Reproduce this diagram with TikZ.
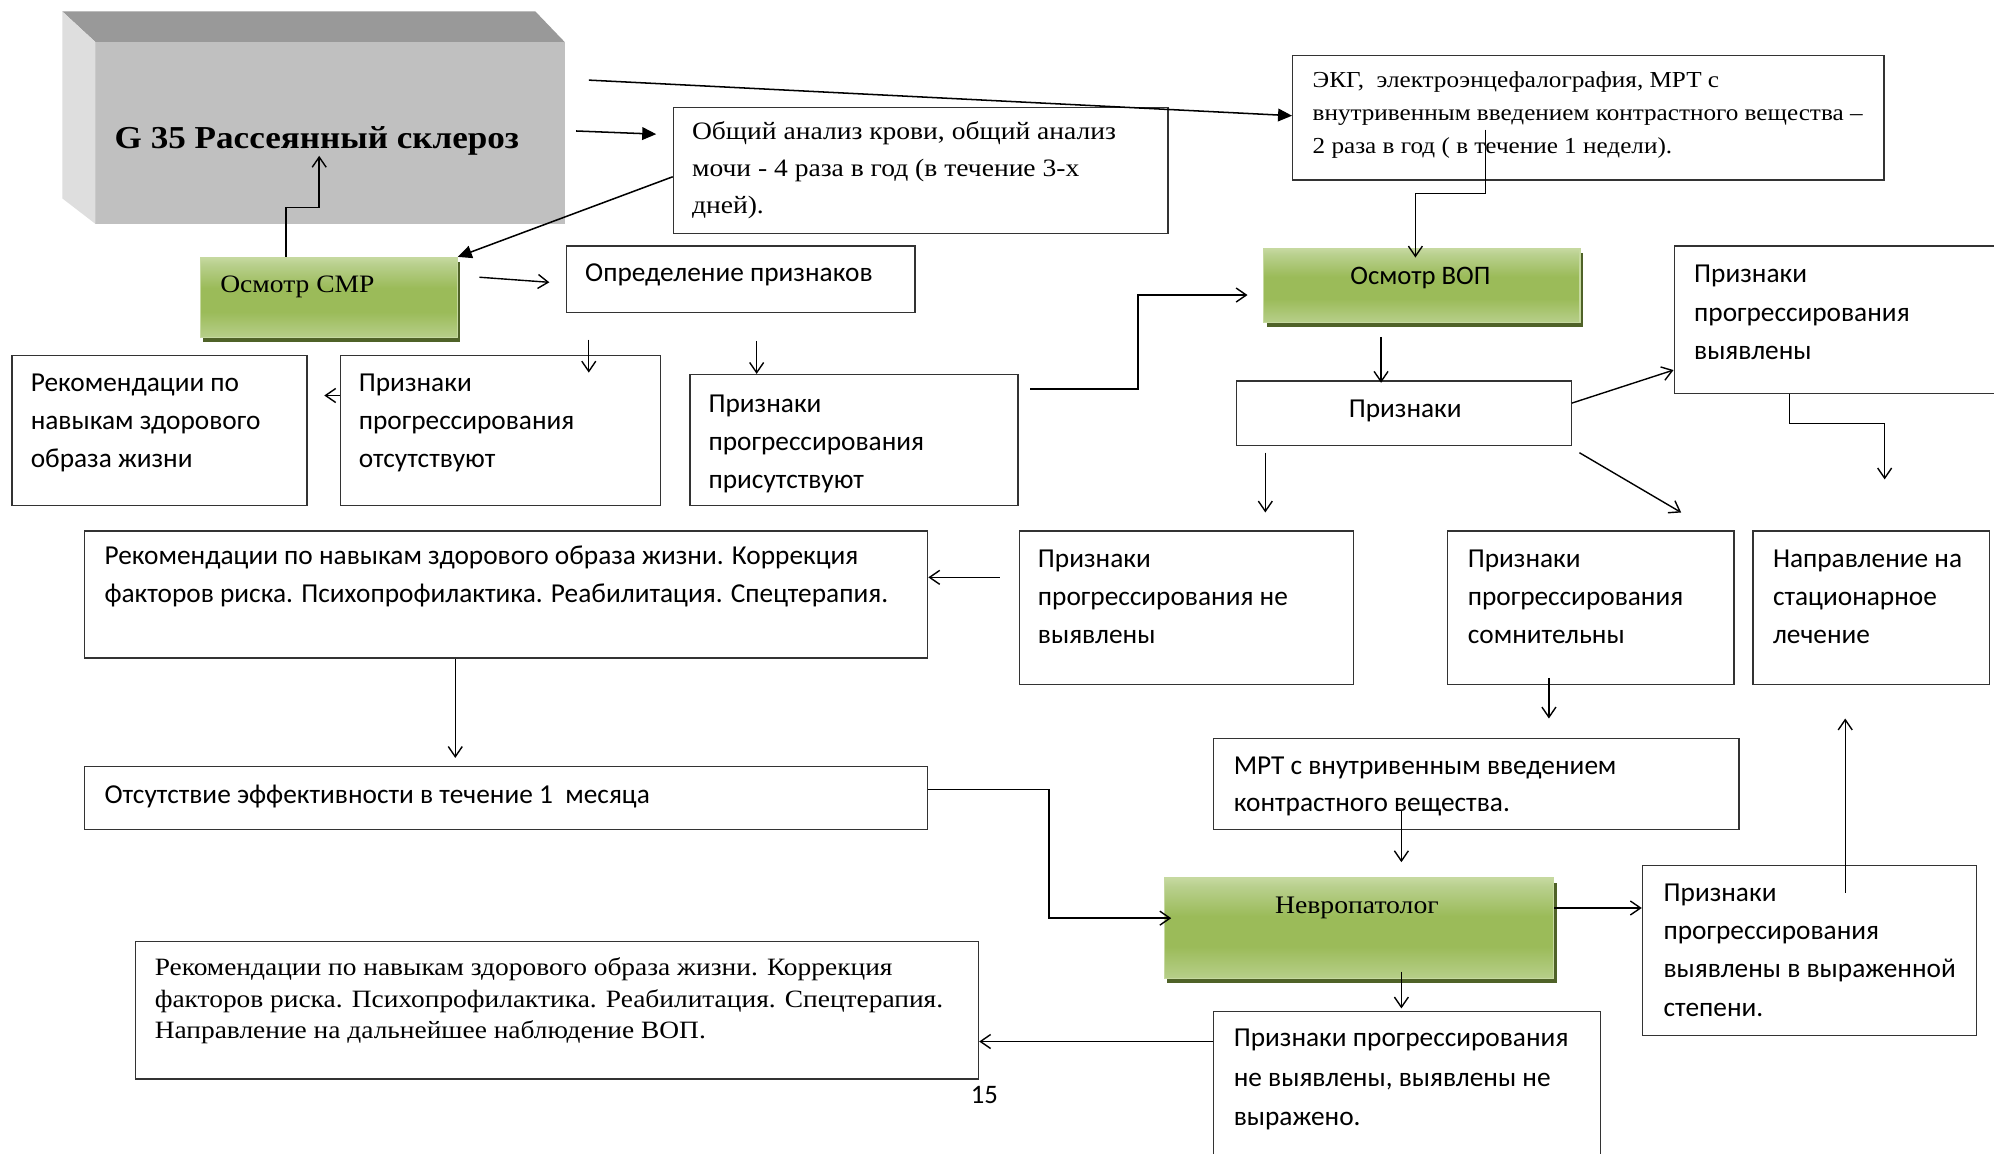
\documentclass[tikz,border=0pt]{standalone}
\usepackage{fontspec}
\setmainfont{Liberation Serif}[FakeStretch=1.1]
\newfontfamily\calib{Carlito}
\usetikzlibrary{arrows.meta,shadows,calc}
\definecolor{gtop}{HTML}{B9D08E}
\definecolor{gmid}{HTML}{9BBB59}
\definecolor{gbot}{HTML}{B7CF8A}
\definecolor{gedge}{HTML}{C6D9A0}
\definecolor{gshadow}{HTML}{4F6228}
\definecolor{blockfront}{HTML}{C0C0C0}
\definecolor{blocktop}{HTML}{999999}
\definecolor{blockside}{HTML}{DEDEDE}
% light top, darker middle band, light bottom
\pgfdeclareverticalshading{greenfill}{100bp}{color(0bp)=(gbot); color(25bp)=(gbot); color(41bp)=(gmid); color(56bp)=(gmid); color(71bp)=(gtop); color(75bp)=(gedge); color(100bp)=(gedge)}
\tikzset{
  box/.style={draw=black!80, line width=1pt, inner sep=0pt, fill=white},
  greenbox/.style={draw=gedge, line width=1pt, inner sep=0pt,
    shade, shading=greenfill,
    drop shadow={shadow xshift=2.5pt, shadow yshift=-3.5pt, fill=gshadow, opacity=1}},
  arr/.style={line width=1.1pt, -{Straight Barb[length=8pt,width=11pt,line width=1.1pt]}},
  farr/.style={line width=1.2pt, -{Triangle[length=11pt,width=10pt]}},
  % multi-line texts are placed by the baseline of their last line
  sanstxt/.style={font=\calib\fontsize{21.5}{30}\selectfont, anchor=base west, inner sep=0pt, align=left},
  seriftxt/.style={font=\fontsize{19.7}{29}\selectfont, anchor=base west, inner sep=0pt, align=left},
  smallserif/.style={font=\fontsize{18}{26}\selectfont, anchor=base west, inner sep=0pt, align=left},
}
% box from (x1,y1) to (x2,y2), y measured downwards
\newcommand\flowbox[5]{\node[box, anchor=north west, minimum width={#4pt-#2pt}, minimum height={#5pt-#3pt}] (#1) at (#2,#3) {};}
\newcommand\greenblock[5]{\node[greenbox, anchor=north west, minimum width={#4pt-#2pt}, minimum height={#5pt-#3pt}] (#1) at (#2,#3) {};}
\begin{document}
\begin{tikzpicture}[x=1pt,y=-1pt]
\useasboundingbox (0,0) rectangle (1568,907);
\clip (0,0) rectangle (1568,907);
\fill[white] (0,0) rectangle (1568,907);

% bevelled grey title block
\fill[blockfront] (75,33) rectangle (444,176);
\fill[blocktop] (49,9) -- (421,9) -- (444,33) -- (75,33) -- cycle;
\fill[blockside] (49,9) -- (75,33) -- (75,176) -- (49,156) -- cycle;
\node[font=\bfseries\fontsize{25.1}{30}\selectfont, anchor=base west, inner sep=0pt] (title) at (90,117) {G 35 Рассеянный склероз};

% green blocks
\greenblock{smr}{157}{202}{359}{265}
\node[font=\fontsize{19.7}{26}\selectfont, anchor=base west, inner sep=0pt] (smrT) at (173,230) {Осмотр СМР};
\greenblock{vop}{993}{195}{1242}{253}
\node[font=\calib\fontsize{21}{26}\selectfont, anchor=base, inner sep=0pt] (vopT) at (1117,224) {Осмотр ВОП};
\greenblock{nevro}{915}{690}{1221}{769}
\node[font=\fontsize{19.8}{26}\selectfont, anchor=base, inner sep=0pt] (nevroT) at (1067,718) {Невропатолог};

% plain boxes
\flowbox{analiz}{529}{84}{918}{183}
\node[seriftxt] (analizT) at (544,168) {Общий анализ крови, общий анализ\\мочи - 4 раза в год (в течение 3-х\\дней).};
\flowbox{ekg}{1016}{43}{1481}{141}
\node[smallserif] (ekgT) at (1032,121) {ЭКГ,\ \ электроэнцефалография, МРТ с\\внутривенным введением контрастного вещества –\\2 раза в год ( в течение 1 недели).};
\flowbox{opr}{445}{193}{719}{245}
\node[sanstxt] (oprT) at (460,221.5) {Определение признаков};
\flowbox{rek1}{9}{279}{241}{397}
\node[sanstxt] (rek1T) at (24,368) {Рекомендации по\\навыкам здорового\\образа жизни};
\flowbox{ots}{267}{279}{519}{397}
\node[sanstxt] (otsT) at (282,368) {Признаки\\прогрессирования\\отсутствуют};
\flowbox{pris}{542}{294}{800}{397}
\node[sanstxt] (prisT) at (557,384) {Признаки\\прогрессирования\\присутствуют};
\flowbox{priz}{972}{299}{1235}{350}
\node[sanstxt, anchor=base] (prizT) at (1105,328) {Признаки};
\flowbox{vyav}{1316}{193}{1585}{309}
\node[sanstxt, font=\calib\fontsize{21.5}{30.5}\selectfont] (vyavT) at (1332,283) {Признаки\\прогрессирования\\выявлены};
\flowbox{rek2}{66}{417}{729}{517}
\node[sanstxt] (rek2T) at (82,474) {Рекомендации по навыкам здорового образа жизни. Коррекция\\факторов риска. Психопрофилактика. Реабилитация. Спецтерапия.};
\flowbox{nevyav}{801}{417}{1064}{538}
\node[sanstxt] (nevyavT) at (816,506) {Признаки\\прогрессирования не\\выявлены};
\flowbox{somn}{1138}{417}{1363}{538}
\node[sanstxt] (somnT) at (1154,506) {Признаки\\прогрессирования\\сомнительны};
\flowbox{napr}{1378}{417}{1564}{538}
\node[sanstxt] (naprT) at (1394,506) {Направление на\\стационарное\\лечение};
\flowbox{otsut}{66}{602}{729}{652}
\node[sanstxt] (otsutT) at (82,631.5) {Отсутствие эффективности в течение 1\ \ месяца};
\flowbox{mrt}{954}{580}{1367}{652}
\node[sanstxt, font=\calib\fontsize{21.5}{29.5}\selectfont] (mrtT) at (970,638.5) {МРТ с внутривенным введением\\контрастного вещества.};
\flowbox{vyr}{1291}{680}{1554}{814}
\node[sanstxt] (vyrT) at (1308,799) {Признаки\\прогрессирования\\выявлены в выраженной\\степени.};
\flowbox{nevyr}{954}{795}{1258}{925}
\node[sanstxt, font=\calib\fontsize{21.5}{31}\selectfont] (nevyrT) at (970,885) {Признаки прогрессирования\\не выявлены, выявлены не\\выражено.};
\flowbox{rek3}{106}{740}{769}{848}
\node[smallserif, font=\fontsize{19.6}{25}\selectfont] (rek3T) at (121.5,817) {Рекомендации по навыкам здорового образа жизни. Коррекция\\факторов риска. Психопрофилактика. Реабилитация. Спецтерапия.\\Направление на дальнейшее наблюдение ВОП.};
\node[font=\calib\fontsize{21}{26}\selectfont, anchor=base, inner sep=0pt] (pagenum) at (774,868) {15};

% free ends of connectors
\coordinate (tA) at (453,103);
\coordinate (tB) at (463,63);
\coordinate (sA) at (377,218);
\coordinate (sB) at (432,222);
\coordinate (oA) at (463,267);
\coordinate (oB) at (595,268);
\coordinate (pA) at (810,306);
\coordinate (eA) at (1168,102);
\coordinate (vA) at (1086,265);
\coordinate (qA) at (995,356);
\coordinate (qB) at (1242,356);
\coordinate (qC) at (1322,403);
\coordinate (nA) at (786,454);
\coordinate (wA) at (1482,377);
\coordinate (mA) at (1218,533);
\coordinate (mB) at (1102,638);
\coordinate (rA) at (1451,702);

% connectors
\draw[farr, shorten >=13pt] (tA) -- (analiz.west |- 0,106);
\draw[farr] (tB) -- (ekg.west |- 0,91);
\draw[farr] (analiz.west |- 0,139) -- (smr.north east);
\draw[arr] (smr.north -| 225,0) |- (251,163) -- (title.south -| 251,0);
\draw[arr] (sA) -- (sB);
\draw[arr, shorten >=-14pt] (oA) -- (ots.north -| oA);
\draw[arr] (oB) -- (pris.north -| oB);
\draw[arr, shorten >=13pt] (ots.west |- 0,311) -- (rek1.east |- 0,311);
\draw[arr, shorten >=12pt] (pA) -- (895,306) |- (vop.west |- 0,232);
\draw[arr, shorten >=-7.5pt] (eA) -- (1168,152) -| (vop.north -| 1113,0);
\draw[arr, shorten >=-2pt] (vA) -- (priz.north -| vA);
\draw[arr] (priz.east |- 0,317) -- (vyav.west |- 0,291);
\draw[arr] (vyav.south -| 1407,0) -- (1407,333) -| (wA);
\draw[arr, shorten >=14pt] (qA) -- (nevyav.north -| qA);
\draw[arr] (qB) -- (qC);
\draw[arr] (nA) -- (rek2.east |- nA);
\draw[arr, shorten >=6pt] (rek2.south -| 358,0) -- (otsut.north -| 358,0);
\draw[arr, shorten >=-6pt] (otsut.east |- 0,621) -- (825,621) |- (nevro.west |- 0,722);
\draw[arr, shorten >=15pt] (mA) -- (mrt.north -| mA);
\draw[arr, shorten >=12pt] (mB) -- (nevro.north -| mB);
\draw[arr] (nevro.east |- 0,714) -- (vyr.west |- 0,714);
\draw[arr, shorten >=26pt] (rA) -- (napr.south -| rA);
\draw[arr, shorten >=2pt] (nevro.south -| 1102,0) ++(0,-6) -- (nevyr.north -| 1102,0);
\draw[arr] (nevyr.west |- 0,819) -- (rek3.east |- 0,819);
\end{tikzpicture}
\end{document}
